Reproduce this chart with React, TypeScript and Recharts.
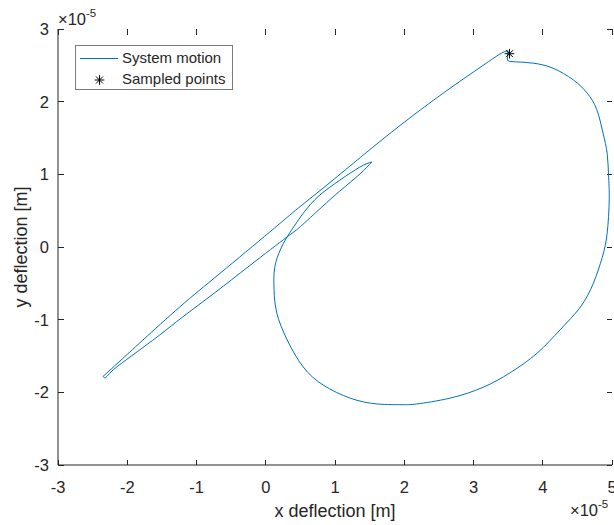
import { Legend, Scatter, ScatterChart, XAxis, YAxis } from "recharts";

const xTicks = [-3, -2, -1, 0, 1, 2, 3, 4, 5];
const yTicks = [-3, -2, -1, 0, 1, 2, 3];
const xDomain: [number, number] = [-3, 5];
const yDomain: [number, number] = [-3, 3];

// trajectory, in units of 1e-5 m in drawing order.
// each piece ends where the next one starts
const hookStart: [number, number][] = [
  [3.5, 2.7], [3.49, 2.62], [3.49, 2.57], [3.52, 2.555], [3.57, 2.55],
];
const bigLoop: [number, number][] = [
  [3.57, 2.55], [3.86, 2.53], [4.15, 2.46], [4.44, 2.3], [4.64, 2.12], [4.78, 1.89], [4.87, 1.57],
  [4.93, 1.29], [4.95, 0.99], [4.96, 0.65], [4.93, 0.19], [4.86, -0.14], [4.73, -0.5],
  [4.54, -0.83], [4.25, -1.14], [3.92, -1.46], [3.53, -1.73], [3.14, -1.93], [2.66, -2.08],
  [2.18, -2.16], [1.97, -2.17], [1.61, -2.16], [1.22, -2.08], [0.83, -1.9], [0.54, -1.65],
  [0.31, -1.28], [0.16, -0.91], [0.12, -0.59], [0.13, -0.28], [0.21, -0.04], [0.31, 0.14],
  [0.5, 0.41], [0.64, 0.58], [0.8, 0.73], [1.07, 0.92], [1.36, 1.1], [1.53, 1.17],
];
const thinReturn: [number, number][] = [
  [1.53, 1.17], [1.36, 1.005], [1.07, 0.77], [0.81, 0.55], [0.5, 0.28], [0.31, 0.14],
  [-0.23, -0.255], [-0.73, -0.625], [-1.2, -0.963], [-1.53, -1.21], [-1.96, -1.514],
  [-2.22, -1.706], [-2.31, -1.796], [-2.35, -1.782],
];
const longLine: [number, number][] = [
  [-2.35, -1.782], [-2.105, -1.569], [-1.773, -1.28], [-1.238, -0.822], [-0.661, -0.363],
  [0.061, 0.209], [0.466, 0.533], [0.812, 0.798], [1.217, 1.115], [1.939, 1.672],
  [2.661, 2.184], [3.094, 2.47], [3.383, 2.656], [3.5, 2.7],
];
const sampledPoints: [number, number][] = [[3.52, 2.66]];

const toPoints = (pts: [number, number][]) => pts.map(([x, y]) => ({ x, y }));
const motionPieces = [
  { key: "hook", pts: toPoints(hookStart), joint: "linear" },
  { key: "loop", pts: toPoints(bigLoop), joint: "natural" },
  { key: "thin", pts: toPoints(thinReturn), joint: "natural" },
  { key: "long", pts: toPoints(longLine), joint: "natural" },
];
const sampled = toPoints(sampledPoints);

const font = '"Liberation Sans", Arial, Helvetica, sans-serif';
const ink = "#262626";
const blue = "#0072BD";
const tickLen = 5.5;

// inward tick marks on all four sides of the box, placed by the chart's own scales
const tickSides = [
  { key: "bottom", pts: xTicks.map((t) => ({ x: t, y: yDomain[0] })), dx: 0, dy: -tickLen },
  { key: "top", pts: xTicks.map((t) => ({ x: t, y: yDomain[1] })), dx: 0, dy: tickLen },
  { key: "left", pts: yTicks.map((t) => ({ x: xDomain[0], y: t })), dx: tickLen, dy: 0 },
  { key: "right", pts: yTicks.map((t) => ({ x: xDomain[1], y: t })), dx: -tickLen, dy: 0 },
];

function Asterisk({ cx, cy, r = 4.8 }: { cx: number; cy: number; r?: number }) {
  const d = r * 0.72;
  return (
    <g stroke="#000" strokeWidth={1}>
      <line x1={cx} x2={cx} y1={cy - r} y2={cy + r} />
      <line x1={cx - r} x2={cx + r} y1={cy} y2={cy} />
      <line x1={cx - d} x2={cx + d} y1={cy - d} y2={cy + d} />
      <line x1={cx - d} x2={cx + d} y1={cy + d} y2={cy - d} />
    </g>
  );
}

function BottomTick({ x, y, payload }: any) {
  return (
    <text x={x} y={y + 28} textAnchor="middle" fontSize={16.5} fill={ink} fontFamily={font}>
      {payload.value}
    </text>
  );
}

function LeftTick({ x, y, payload }: any) {
  return (
    <text x={x - 9} y={y + 6} textAnchor="end" fontSize={16.5} fill={ink} fontFamily={font}>
      {payload.value}
    </text>
  );
}

const NoLabel = () => <g />;

function Exponent({ x, y }: { x: number; y: number }) {
  return (
    <text x={x} y={y} fontSize={16.5} fill={ink} fontFamily={font}>
      ×10
      <tspan dy={-8} fontSize={11.5}>-5</tspan>
    </text>
  );
}

function TopLabel({ viewBox }: any) {
  return (
    <text x={viewBox.x + viewBox.width / 2} y={viewBox.y - 7} textAnchor="middle" fontSize={18} fontWeight="bold" fill="#000" fontFamily={font}>
      Stable x-y Plot
    </text>
  );
}

function BottomLabel({ viewBox }: any) {
  return (
    <g>
      <text x={viewBox.x + viewBox.width / 2} y={viewBox.y + 52} textAnchor="middle" fontSize={18} fill={ink} fontFamily={font}>
        x deflection [m]
      </text>
      <Exponent x={viewBox.x + viewBox.width - 42} y={viewBox.y + 51} />
    </g>
  );
}

function LeftLabel({ viewBox }: any) {
  const cx = viewBox.x + 19;
  const cy = viewBox.y + viewBox.height / 2;
  return (
    <g>
      <text x={cx} y={cy} transform={`rotate(-90, ${cx}, ${cy})`} textAnchor="middle" fontSize={18} fill={ink} fontFamily={font}>
        y deflection [m]
      </text>
      <Exponent x={viewBox.x + viewBox.width} y={viewBox.y - 4} />
    </g>
  );
}

function LegendBox() {
  return (
    <svg width={159} height={46} style={{ display: "block" }}>
      <rect x={0.5} y={0.5} width={157} height={44} fill="#fff" stroke="#7a7a7a" />
      <line x1={5} x2={43} y1={13.5} y2={13.5} stroke={blue} />
      <text x={47} y={18} fontSize={15} fill={ink} fontFamily={font}>System motion</text>
      <Asterisk cx={24.5} cy={35} />
      <text x={47} y={39} fontSize={15} fill={ink} fontFamily={font}>Sampled points</text>
    </svg>
  );
}

// no allowDataOverflow: every value sits inside the fixed domain, and leaving it off
// keeps the series unclipped so the edge ticks show
const axisCommon = {
  type: "number" as const,
  interval: 0 as const,
  tickSize: 0,
  tickMargin: 0,
  axisLine: { stroke: ink, strokeWidth: 1 },
  tickLine: false,
};

export default function App() {
  return (
    <div style={{ position: "absolute", left: 0, top: 0, width: 614, height: 525, background: "#fff" }}>
      <ScatterChart width={614} height={525} margin={{ top: 29, right: 2, bottom: 20, left: 8 }}>
        <XAxis
          {...axisCommon}
          xAxisId="b"
          dataKey="x"
          orientation="bottom"
          domain={xDomain}
          ticks={xTicks}
          height={40}
          tick={(p: any) => <BottomTick {...p} />}
          label={(p: any) => <BottomLabel {...p} />}
        />
        <XAxis
          {...axisCommon}
          xAxisId="t"
          orientation="top"
          domain={xDomain}
          ticks={xTicks}
          height={0}
          tick={NoLabel}
          label={(p: any) => <TopLabel {...p} />}
        />
        <YAxis
          {...axisCommon}
          yAxisId="l"
          dataKey="y"
          orientation="left"
          domain={yDomain}
          ticks={yTicks}
          width={50}
          tick={(p: any) => <LeftTick {...p} />}
          label={(p: any) => <LeftLabel {...p} />}
        />
        <YAxis
          {...axisCommon}
          yAxisId="r"
          orientation="right"
          domain={yDomain}
          ticks={yTicks}
          width={0}
          tick={NoLabel}
        />
        <Legend
          layout="vertical"
          align="center"
          verticalAlign="middle"
          wrapperStyle={{ left: 75, top: 45, width: "auto", height: "auto" }}
          content={() => <LegendBox />}
        />
        {tickSides.map((side) => (
          <Scatter
            key={side.key}
            data={side.pts}
            xAxisId="b"
            yAxisId="l"
            shape={(p: any) => (
              <line
                x1={p.cx}
                y1={p.cy}
                x2={p.cx + side.dx}
                y2={p.cy + side.dy}
                stroke={ink}
                strokeWidth={1}
                shapeRendering="crispEdges"
              />
            )}
            isAnimationActive={false}
          />
        ))}
        {motionPieces.map((piece) => (
          <Scatter
            key={piece.key}
            name="System motion"
            data={piece.pts}
            xAxisId="b"
            yAxisId="l"
            line={{ stroke: blue, strokeWidth: 1 }}
            lineJointType={piece.joint as any}
            shape={() => <g />}
            isAnimationActive={false}
          />
        ))}
        <Scatter
          name="Sampled points"
          data={sampled}
          xAxisId="b"
          yAxisId="l"
          shape={(p: any) => <Asterisk cx={p.cx} cy={p.cy} />}
          isAnimationActive={false}
        />
      </ScatterChart>
    </div>
  );
}
